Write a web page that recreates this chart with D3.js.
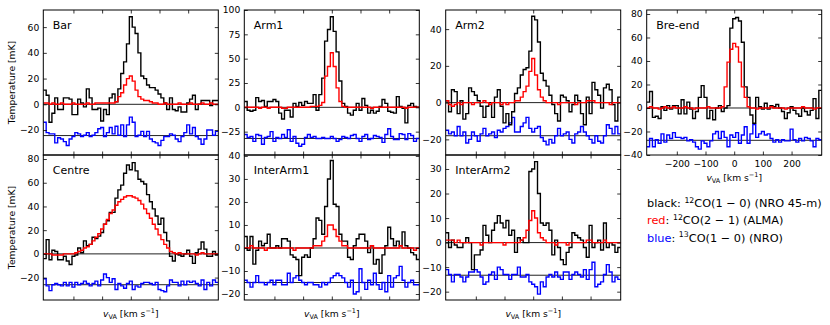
<!DOCTYPE html>
<html><head><meta charset="utf-8">
<script src="https://cdn.jsdelivr.net/npm/d3@7"></script>
<style>body{margin:0;background:#fff} svg{display:block;font-family:"DejaVu Sans",sans-serif}</style>
</head><body><svg id="c" width="830" height="325"></svg>
<script>
// ---- data ----
const velocities = [-300,-290,-280,-270,-260,-250,-240,-230,-220,-210,-200,-190,-180,-170,-160,-150,-140,-130,-120,-110,-100,-90,-80,-70,-60,-50,-40,-30,-20,-10,0,10,20,30,40,50,60,70,80,90,100,110,120,130,140,150,160,170,180,190,200,210,220,230,240,250,260,270,280,290,300];
const xTicks = [-200,-100,0,100,200];
const panelNames = ["Bar","Arm1","Arm2","Bre-end","Centre","InterArm1","InterArm2"];

const barCO10 = [11,7,-14,-7,5,-4,-4,5,5,4, -8,-8,4,1,-2,12,5,-4,-4,-3, -13,-4,-8,5,8,2,12,24,33,47, 68,60,55,40,22,20,15,13,13,11, 8,5,1,-4,5,-4,-5,-2,-6,-6, 1,4,7,-4,0,3,3,3,-1,3, 3];
const barCO21 = [1,1,0,1,0,0,1,0,0,0, 1,0,0,0,0,1,0,0,1,1, 1,1,1,1,1,2,6,9,15,20, 22,18,11,6,4,3,3,2,1,1, 0,0,1,0,0,0,0,1,0,0, 0,1,0,0,0,1,0,0,1,0, 0];
const barCO13 = [-14,-22,-23,-23,-30,-26,-27,-29,-32,-27, -25,-22,-23,-25,-24,-22,-25,-24,-22,-19, -18,-25,-22,-18,-23,-17,-24,-16,-25,-16, -10,-14,-25,-24,-21,-25,-21,-27,-29,-30, -32,-28,-25,-25,-23,-24,-27,-29,-25,-22, -16,-23,-18,-25,-27,-31,-27,-20,-20,-24, -21];

const arm1CO10 = [6,-3,-4,-3,10,6,7,1,6,6, 8,6,-6,-12,-3,-3,-10,4,1,5, 2,6,4,4,13,-3,13,30,68,80, 93,78,57,27,4,1,-6,-8,-3,4, -3,9,2,-6,-3,-6,-4,1,8,4, -4,-5,-6,11,1,-1,-16,2,4,1, 0];
const arm1CO21 = [0,0,0,0,0,-1,0,0,-1,0, 0,0,0,-1,-1,0,0,0,0,0, 0,0,0,1,1,1,2,5,32,42, 56,42,20,6,1,0,0,0,0,0, 0,0,0,0,-1,0,0,0,0,0, 0,0,0,0,0,0,-1,0,0,0, 0];
const arm1CO13 = [-28,-31,-30,-35,-28,-29,-38,-31,-30,-25, -35,-31,-32,-28,-31,-23,-35,-30,-37,-40, -38,-31,-28,-31,-30,-32,-32,-31,-32,-32, -30,-32,-35,-33,-30,-31,-32,-29,-28,-32, -35,-30,-28,-33,-32,-29,-30,-31,-36,-28, -22,-30,-33,-33,-27,-28,-33,-27,-29,-35, -32];

const arm2CO10 = [1,-5,7,6,-6,1,-9,-6,8,6, 4,1,-2,-8,-2,0,-8,3,7,-2, -11,-6,-12,-5,5,8,15,18,19,28, 47,45,33,16,12,9,4,-1,-6,-10, 4,3,1,-5,-1,4,1,-6,-12,3, -6,11,7,4,-3,8,10,7,-1,-10, 3];
const arm2CO21 = [1,-1,-2,-1,0,-1,0,0,0,-1, 0,0,0,1,0,-1,0,0,0,-1, 0,-1,0,0,1,1,3,6,9,17, 24,15,7,3,1,0,0,0,0,-1, 0,0,0,0,0,-1,0,0,0,1, 1,1,0,0,0,0,0,-1,0,0, 0];
const arm2CO13 = [-15,-17,-16,-18,-13,-18,-16,-22,-20,-16, -18,-21,-17,-14,-18,-17,-16,-19,-15,-16, -14,-13,-11,-8,-16,-16,-13,-11,-8,-14, -16,-14,-13,-19,-21,-23,-20,-22,-18,-14, -18,-17,-16,-20,-22,-17,-16,-13,-16,-18, -20,-22,-18,-21,-22,-18,-12,-14,-17,-13, -17];

const breCO10 = [5,14,-8,-7,-9,1,-2,2,-1,2, 2,-5,7,-5,5,-1,-9,-3,9,19, 9,-9,-2,-10,0,2,-3,0,2,68, 76,77,74,56,18,9,-6,-13,9,1, -1,4,-1,2,1,3,0,-3,-9,-4, 1,-2,-5,-7,0,-3,-6,-2,8,-9, 15];
const breCO21 = [0,1,0,0,-1,0,1,0,0,1, 0,0,0,1,0,0,-1,0,0,0, 0,1,0,0,0,0,1,18,39,50, 55,52,39,18,9,1,0,0,-1,0, 0,0,0,1,0,0,0,0,-1,0, 0,0,0,0,1,0,0,0,-1,0, 0];
const breCO13 = [-33,-26,-33,-27,-30,-22,-29,-23,-26,-21, -25,-25,-26,-25,-28,-27,-29,-33,-35,-28, -30,-33,-28,-22,-20,-26,-20,-25,-33,-23, -25,-21,-30,-23,-16,-30,-22,-14,-25,-22, -20,-23,-22,-26,-29,-27,-29,-27,-28,-28, -18,-27,-29,-26,-28,-25,-26,-28,-33,-26, -27];

const centreCO10 = [-4,12,-5,3,2,-5,-5,-2,-6,-9, -2,-1,5,1,11,7,8,14,13,15, 18,25,28,35,35,47,54,58,68,75, 71,77,70,63,61,59,50,44,38,32, 25,30,18,11,-2,-6,0,-1,-2,0, 3,-2,-8,1,4,10,4,-2,-2,2, -1];
const centreCO21 = [0,0,0,-1,-1,-1,-1,0,0,0, 0,1,2,3,5,6,8,11,14,17, 21,25,29,34,37,41,44,46,48,49, 49,48,47,45,42,38,34,30,25,21, 16,12,8,5,2,1,0,1,0,0, 0,0,0,-1,0,1,0,0,0,0, 0];
const centreCO13 = [-21,-27,-31,-26,-25,-26,-27,-24,-27,-24, -28,-24,-26,-25,-23,-25,-27,-25,-23,-27, -22,-17,-20,-24,-21,-30,-25,-27,-29,-25, -23,-30,-27,-28,-25,-24,-24,-25,-26,-24, -30,-31,-32,-27,-22,-24,-24,-27,-23,-26, -23,-24,-23,-25,-27,-22,-30,-24,-27,-22, -24];

const ia1CO10 = [5,-1,5,-7,-1,3,1,2,6,0, 0,1,0,4,4,3,-3,-4,-5,-12, -4,-3,-4,0,4,13,12,6,18,30, 38,19,18,6,3,3,-4,-5,1,4, 6,6,3,-2,1,-7,-5,-11,-3,1, 9,4,1,3,1,7,1,0,-2,-3, -5];
const ia1CO21 = [0,0,1,0,0,0,0,-1,0,0, 0,0,0,0,0,0,0,-1,0,0, 0,0,0,0,1,1,1,3,5,10, 10,8,5,3,1,1,0,0,0,0, 0,0,0,0,1,0,0,0,0,0, 0,0,0,0,1,0,0,0,0,-1, 0];
const ia1CO13 = [-14,-15,-17,-15,-12,-15,-15,-16,-15,-14, -16,-14,-14,-16,-16,-11,-15,-13,-12,-14, -15,-16,-15,-15,-16,-16,-17,-15,-16,-15, -13,-12,-11,-12,-13,-15,-17,-14,-20,-19, -9,-15,-18,-14,-16,-11,-16,-18,-15,-19, -12,-17,-13,-12,-8,-14,-17,-15,-14,-16, -16];

const ia2CO10 = [4,-2,1,-1,-2,-2,0,2,0,-11, -5,-5,-3,7,3,0,5,8,11,8, 6,9,3,5,-4,2,1,0,0,29, 30,33,20,8,7,8,5,-5,1,-2, -7,-9,-4,-2,4,3,2,1,-2,-6, 7,-2,0,1,-3,8,-2,0,-1,-4, -2];
const ia2CO21 = [1,1,1,0,1,0,0,0,0,0, 0,0,-1,0,0,0,0,0,0,0, -1,0,0,0,0,0,1,2,5,9, 13,10,4,2,1,0,0,0,-1,0, 0,0,-1,0,0,0,0,0,0,1, 1,0,0,0,0,1,0,0,0,0, 0];
const ia2CO13 = [-11,-13,-16,-13,-13,-14,-16,-14,-12,-12, -11,-12,-14,-17,-16,-13,-12,-15,-10,-11, -13,-13,-15,-13,-13,-10,-14,-14,-13,-16, -17,-18,-21,-16,-18,-14,-13,-14,-12,-14, -15,-12,-12,-15,-13,-12,-13,-14,-11,-15, -11,-8,-18,-17,-16,-13,-9,-12,-16,-14, -15];

// 13CO plotting baselines (offsets) per panel
const co13Baselines = [-24.3, -32, -18, -27.5, -26, -15, -13.3];
// y tick labels per panel
const yTickLabels = [
  [-20,0,20,40,60],
  [-25,0,25,50,75,100],
  [-20,0,20,40],
  [-40,-20,0,20,40,60,80],
  [-20,0,20,40,60,80],
  [-20,-10,0,10,20,30,40],
  [-20,-10,0,10,20,30]
];
const yRanges = [[-39.4,73.3],[-49,100],[-28.5,50.4],[-40,83.4],[-38.9,83.4],[-22.6,40.4],[-23.4,35.7]];

const co10 = [barCO10, arm1CO10, arm2CO10, breCO10, centreCO10, ia1CO10, ia2CO10];
const co21 = [barCO21, arm1CO21, arm2CO21, breCO21, centreCO21, ia1CO21, ia2CO21];
const co13 = [barCO13, arm1CO13, arm2CO13, breCO13, centreCO13, ia1CO13, ia2CO13];

// ---- layout ----
const colLeft = [43.3, 244.3, 445.7, 646.7];
const rowTop = [10, 155];
const W = 175, H = 145;
const grid = [[0,0],[1,0],[2,0],[3,0],[0,1],[1,1],[2,1]];
const svg = d3.select("#c");
const half = (velocities[1]-velocities[0])/2;
const x = d3.scaleLinear().domain([velocities[0]-half, velocities[velocities.length-1]+half]).range([0, W]);
const FS = 9.2;

function stepPts(vals){
  return vals.flatMap((v,i)=>[[velocities[i]-half, v],[velocities[i]+half, v]]);
}

panelNames.forEach((name, p) => {
  const [c, r] = grid[p];
  const g = svg.append("g").attr("transform", `translate(${colLeft[c]},${rowTop[r]})`);
  const y = d3.scaleLinear().domain(yRanges[p]).range([H, 0]);
  const clipId = "clip" + p;
  g.append("clipPath").attr("id", clipId).append("rect").attr("width", W).attr("height", H);
  const body = g.append("g").attr("clip-path", `url(#${clipId})`);
  const line = d3.line().x(d => x(d[0])).y(d => y(d[1]));
  [0, co13Baselines[p]].forEach(b => {
    body.append("line").attr("x1", 0).attr("x2", W).attr("y1", y(b)).attr("y2", y(b))
      .attr("stroke", "#222").attr("stroke-width", 1);
  });
  body.append("path").attr("d", line(stepPts(co13[p]))).attr("fill","none").attr("stroke","#0000ff").attr("stroke-width",1.4);
  body.append("path").attr("d", line(stepPts(co10[p]))).attr("fill","none").attr("stroke","#000").attr("stroke-width",1.4);
  body.append("path").attr("d", line(stepPts(co21[p]))).attr("fill","none").attr("stroke","#ff0000").attr("stroke-width",1.4);

  const styleAxis = sel => {
    sel.select(".domain").remove();
    sel.selectAll("line").attr("stroke", "#000").attr("stroke-width", 0.8);
    sel.selectAll("text").attr("font-size", FS).attr("font-family", '"DejaVu Sans",sans-serif').attr("fill", "#000");
  };
  g.append("g").call(d3.axisLeft(y).tickValues(yTickLabels[p]).tickSize(-3.5).tickSizeOuter(0).tickPadding(4)).call(styleAxis);
  g.append("g").attr("transform", `translate(${W},0)`).call(d3.axisRight(y).tickValues(yTickLabels[p]).tickSize(-3.5).tickSizeOuter(0).tickFormat("")).call(styleAxis);
  g.append("g").call(d3.axisTop(x).tickValues(xTicks).tickSize(-3.5).tickSizeOuter(0).tickFormat("")).call(styleAxis);
  const showX = name === "Bre-end";
  const bx = d3.axisBottom(x).tickValues(xTicks).tickSize(-3.5).tickSizeOuter(0).tickPadding(5);
  if (!showX) bx.tickFormat("");
  g.append("g").attr("transform", `translate(0,${H})`).call(bx).call(styleAxis);

  g.append("rect").attr("width", W).attr("height", H).attr("fill", "none").attr("stroke", "#000").attr("stroke-width", 1);

  g.append("text").attr("x", 9.5).attr("y", 18.5).attr("font-size", 11).text(name);

  if (r === 1 || showX) {
    const t = g.append("text").attr("x", W/2).attr("y", H + (showX ? 25.5 : 17)).attr("text-anchor", "middle").attr("font-size", FS);
    t.append("tspan").attr("font-style", "italic").text("v");
    t.append("tspan").attr("font-size", 6.5).attr("dy", 2.2).text("VA");
    t.append("tspan").attr("dy", -2.2).text(" [km s");
    t.append("tspan").attr("font-size", 6.5).attr("dy", -3.8).text("−1");
    t.append("tspan").attr("dy", 3.8).text("]");
  }
});

[rowTop[0] + H/2, rowTop[1] + H/2].forEach(cy => {
  svg.append("text").attr("transform", `translate(14.5,${cy}) rotate(-90)`).attr("text-anchor", "middle")
    .attr("font-size", FS).text("Temperature [mK]");
});

const legend = [
  {c: "black", col: "#000", iso: "12", rest: "CO(1 − 0) (NRO 45-m)"},
  {c: "red", col: "#ff0000", iso: "12", rest: "CO(2 − 1) (ALMA)"},
  {c: "blue", col: "#0000ff", iso: "13", rest: "CO(1 − 0) (NRO)"}
];
legend.forEach((d, i) => {
  const t = svg.append("text").attr("x", 647).attr("y", 207 + i * 17.3).attr("font-size", 11.3);
  t.append("tspan").attr("fill", d.col).text(d.c);
  t.append("tspan").attr("fill", "#000").text(": ");
  t.append("tspan").attr("font-size", 7.8).attr("dy", -4.3).text(d.iso);
  t.append("tspan").attr("dy", 4.3).text(d.rest);
});
</script></body></html>
